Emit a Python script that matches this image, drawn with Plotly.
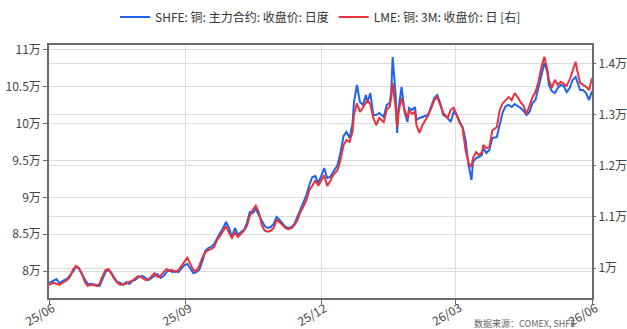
import plotly.graph_objects as go

# Trading dates (sampled) and closing prices
dates = [
    "2025-06-01", "2025-06-04", "2025-06-06", "2025-06-08", "2025-06-10", "2025-06-13", "2025-06-15",
    "2025-06-17", "2025-06-19", "2025-06-21", "2025-06-23", "2025-06-25", "2025-06-27", "2025-06-30",
    "2025-07-03", "2025-07-05", "2025-07-07", "2025-07-09", "2025-07-11", "2025-07-13", "2025-07-15",
    "2025-07-17", "2025-07-19", "2025-07-21", "2025-07-23", "2025-07-25", "2025-07-27", "2025-07-29",
    "2025-07-31", "2025-08-03", "2025-08-05", "2025-08-07", "2025-08-09", "2025-08-11", "2025-08-13",
    "2025-08-15", "2025-08-17", "2025-08-19", "2025-08-21", "2025-08-23", "2025-08-25", "2025-08-27",
    "2025-08-29", "2025-08-31", "2025-09-02", "2025-09-04", "2025-09-06", "2025-09-08", "2025-09-10",
    "2025-09-12", "2025-09-14", "2025-09-16", "2025-09-18", "2025-09-20", "2025-09-22", "2025-09-24",
    "2025-09-26", "2025-09-28", "2025-09-30", "2025-10-02", "2025-10-04", "2025-10-06", "2025-10-08",
    "2025-10-10", "2025-10-12", "2025-10-14", "2025-10-16", "2025-10-18", "2025-10-20", "2025-10-22",
    "2025-10-24", "2025-10-26", "2025-10-28", "2025-10-30", "2025-11-01", "2025-11-03", "2025-11-05",
    "2025-11-07", "2025-11-09", "2025-11-11", "2025-11-13", "2025-11-15", "2025-11-17", "2025-11-19",
    "2025-11-21", "2025-11-23", "2025-11-25", "2025-11-27", "2025-11-29", "2025-12-02", "2025-12-03",
    "2025-12-05", "2025-12-07", "2025-12-09", "2025-12-12", "2025-12-14", "2025-12-16", "2025-12-18",
    "2025-12-20", "2025-12-22", "2025-12-23", "2025-12-25", "2025-12-27", "2025-12-29", "2025-12-31",
    "2026-01-01", "2026-01-03", "2026-01-05", "2026-01-07", "2026-01-09", "2026-01-12", "2026-01-14",
    "2026-01-16", "2026-01-17", "2026-01-18", "2026-01-20", "2026-01-21", "2026-01-22", "2026-01-24",
    "2026-01-26", "2026-01-28", "2026-01-29", "2026-01-31", "2026-02-02", "2026-02-03", "2026-02-05",
    "2026-02-07", "2026-02-09", "2026-02-11", "2026-02-13", "2026-02-15", "2026-02-17", "2026-02-19",
    "2026-02-21", "2026-02-24", "2026-02-26", "2026-02-28", "2026-03-02", "2026-03-04", "2026-03-06",
    "2026-03-08", "2026-03-10", "2026-03-12", "2026-03-13", "2026-03-15", "2026-03-17", "2026-03-19",
    "2026-03-20", "2026-03-22", "2026-03-24", "2026-03-26", "2026-03-29", "2026-03-31", "2026-04-02",
    "2026-04-04", "2026-04-06", "2026-04-08", "2026-04-10", "2026-04-12", "2026-04-14", "2026-04-16",
    "2026-04-18", "2026-04-20", "2026-04-22", "2026-04-24", "2026-04-26", "2026-04-28", "2026-04-30",
    "2026-05-02", "2026-05-03", "2026-05-05", "2026-05-07", "2026-05-09", "2026-05-11", "2026-05-13",
    "2026-05-15", "2026-05-17", "2026-05-19", "2026-05-21", "2026-05-22", "2026-05-24", "2026-05-26",
    "2026-05-28", "2026-05-30", "2026-06-01",
]

# SHFE copper, main contract close (CNY/t), left axis
shfe = [
    78370, 78640, 78910, 78370, 78640, 78910, 79320, 79860, 80540, 80410, 79590, 78910, 78240, 78240,
    78100, 77960, 78910, 79860, 80140, 79730, 79050, 78510, 78370, 78100, 78510, 78240, 78640, 78780,
    79190, 79320, 79050, 78780, 79050, 79320, 79590, 79050, 79320, 79860, 80140, 79860, 80000, 79860,
    80410, 80810, 80950, 80410, 79730, 79860, 80140, 81220, 82710, 83120, 83260, 83660, 84480, 85160,
    85840, 86650, 85840, 84610, 85840, 84890, 85290, 85560, 86510, 88010, 87870, 88410, 87600, 86790,
    86110, 85840, 85970, 86380, 87330, 86920, 86380, 85970, 85840, 85970, 86380, 87330, 88410, 89230,
    90310, 91670, 92760, 92890, 91940, 93430, 93980, 92620, 92760, 93430, 94380, 96150, 98320, 98860,
    98050, 99950, 102930, 105240, 102930, 102530, 103880, 102800, 104150, 101170, 101170, 101440, 100900, 102530,
    102800, 104150, 109040, 103880, 98730, 102120, 104970, 101580, 100220, 102120, 101850, 102250, 100490, 100760,
    100900, 101030, 101300, 102530, 103480, 103880, 102800, 101170, 100760, 100220, 101580, 101170, 100080, 99540,
    97780, 94380, 92350, 94790, 95330, 95470, 95740, 96690, 96010, 96420, 98050, 98180, 99810, 101580,
    102390, 102530, 102250, 102660, 102390, 102120, 101710, 101170, 101580, 102800, 103200, 104830, 106600, 108230,
    107000, 105240, 104430, 104150, 104830, 105240, 105100, 104290, 104830, 105920, 106330, 105650, 104560, 104560,
    104150, 103200, 104430,
]

# LME copper, 3-month close (USD/t), right axis
lme = [
    9670, 9710, 9690, 9670, 9710, 9760, 9820, 9960, 10040, 10000, 9900, 9730, 9650, 9670,
    9650, 9690, 9840, 9960, 9980, 9880, 9780, 9710, 9670, 9690, 9690, 9730, 9750, 9800,
    9840, 9800, 9760, 9780, 9840, 9900, 9820, 9840, 9920, 9980, 9940, 9960, 9920, 9960,
    10040, 10120, 10200, 10080, 9960, 9940, 10040, 10200, 10310, 10350, 10370, 10410, 10550, 10630,
    10730, 10820, 10690, 10590, 10690, 10610, 10670, 10730, 10820, 11020, 11140, 11220, 11100, 10840,
    10730, 10710, 10730, 10780, 10940, 10900, 10840, 10780, 10760, 10780, 10840, 10940, 11100, 11200,
    11330, 11530, 11610, 11720, 11610, 11760, 11820, 11610, 11700, 11820, 11920, 12120, 12410, 12510,
    12470, 12670, 13000, 13230, 13060, 13140, 13250, 13290, 13210, 12940, 12800, 12940, 12860, 13100,
    13160, 13330, 13630, 13140, 12760, 13060, 13330, 13100, 12940, 13100, 13020, 13060, 12800, 12650,
    12800, 12900, 13000, 13140, 13290, 13350, 13180, 13040, 12940, 13100, 13140, 13000, 12860, 12740,
    12310, 12060, 11980, 12160, 12270, 12210, 12270, 12410, 12350, 12370, 12700, 12760, 13100, 13230,
    13290, 13350, 13290, 13430, 13350, 13250, 13180, 13020, 13180, 13350, 13450, 13650, 13940, 14140,
    13880, 13690, 13530, 13690, 13590, 13650, 13610, 13570, 13690, 13880, 14040, 13880, 13630, 13590,
    13550, 13490, 13720,
]

left_ticks = [80000, 85000, 90000, 95000, 100000, 105000, 110000]
left_labels = ["8万", "8.5万", "9万", "9.5万", "10万", "10.5万", "11万"]
right_ticks = [10000, 11000, 12000, 13000, 14000]
right_labels = ["1万", "1.1万", "1.2万", "1.3万", "1.4万"]
x_ticks = ["2025-06-01", "2025-09-01", "2025-12-01", "2026-03-01", "2026-06-01"]
x_labels = ["25/06", "25/09", "25/12", "26/03", "26/06"]

FONT = "Noto Sans CJK SC"
BLUE = "#1f63ee"
RED = "#e8333d"
GRID = "#dcdcdc"
FRAME = "#6b6b6b"
TICK_FONT = dict(family=FONT, size=12, color="#444444")

fig = go.Figure()
fig.add_trace(go.Scatter(
    x=dates, y=shfe, mode="lines", name="SHFE: 铜: 主力合约: 收盘价: 日度",
    line=dict(color=BLUE, width=2), yaxis="y",
))
fig.add_trace(go.Scatter(
    x=dates, y=lme, mode="lines", name="LME: 铜: 3M: 收盘价: 日 [右]",
    line=dict(color=RED, width=2), yaxis="y2",
))

# Slanted date labels under the x axis, one per tick
date_labels = [
    dict(
        text=lab, x=tv, xref="x", y=-0.063, yref="paper",
        xanchor="center", yanchor="middle", xshift=-9,
        textangle=-30, showarrow=False, font=TICK_FONT,
    )
    for tv, lab in zip(x_ticks, x_labels)
]

source_note = dict(
    text="数据来源：COMEX, SHFE", xref="paper", yref="paper",
    x=0.975, xanchor="right", y=-0.068, yanchor="top",
    showarrow=False, font=dict(family=FONT, size=9, color="#666666"),
)

fig.update_layout(
    width=627, height=329,
    margin=dict(l=49, r=35, t=45, b=31),
    paper_bgcolor="white", plot_bgcolor="white",
    font=dict(family=FONT, size=12, color="#333333"),
    showlegend=True,
    legend=dict(
        orientation="h", x=0.5, xanchor="center",
        yref="container", y=0.948, yanchor="middle",
        font=dict(family=FONT, size=12, color="#333333"),
        itemwidth=30, bgcolor="rgba(0,0,0,0)",
    ),
    xaxis=dict(
        type="date", range=["2025-06-01", "2026-06-01"], automargin=False,
        tickvals=x_ticks, showticklabels=False,
        showgrid=True, gridcolor=GRID, gridwidth=1,
        showline=True, linecolor=FRAME, linewidth=1.5, mirror=True,
        ticks="outside", ticklen=4, tickcolor=FRAME,
        zeroline=False,
    ),
    yaxis=dict(
        range=[76336, 110668], automargin=False,
        tickvals=left_ticks, ticktext=left_labels,
        showgrid=True, gridcolor=GRID, gridwidth=1,
        showline=True, linecolor=FRAME, linewidth=1.5, mirror=True,
        ticks="outside", ticklen=4, tickcolor=FRAME,
        tickfont=TICK_FONT,
        zeroline=False,
    ),
    yaxis2=dict(
        range=[9412, 14371], overlaying="y", side="right", automargin=False,
        tickvals=right_ticks, ticktext=right_labels,
        showgrid=True, gridcolor=GRID, gridwidth=1,
        showline=False,
        ticks="outside", ticklen=3, tickcolor=FRAME,
        tickfont=TICK_FONT,
        zeroline=False,
    ),
    annotations=date_labels + [source_note],
)

fig.write_html("out.html")
